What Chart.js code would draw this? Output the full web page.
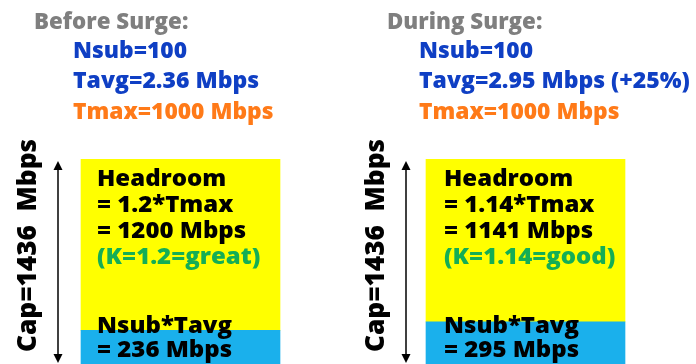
<!DOCTYPE html>
<html>
<head>
<meta charset="utf-8">
<script src="https://cdn.jsdelivr.net/npm/chart.js@4"></script>
<style>
  html, body { margin: 0; padding: 0; background: #ffffff; overflow: hidden; }
  #wrap { width: 696px; height: 364px; overflow: hidden; }
  canvas { display: block; }
</style>
</head>
<body>
<div id="wrap"><canvas id="chart" width="698" height="364"></canvas></div>
<script>
// Link capacity split into average load and burst headroom, before and during a traffic surge
const panels = ['Before Surge', 'During Surge'];
const loadMbps = [236, 295];          // Nsub * Tavg
const headroomMbps = [1200, 1141];    // K * Tmax
const capMbps = [1436, 1436];
const nsub = [100, 100];
const tavgMbps = [2.36, 2.95];
const tavgNote = ['', ' (+25%)'];
const tmaxMbps = [1000, 1000];
const kFactor = [1.2, 1.14];
const kRating = ['great', 'good'];

const FONT = '"Open Sans", "DejaVu Sans", sans-serif';
const COLORS = {
  load: '#1AB0EC',
  headroom: '#FFFF00',
  title: '#7F7F7F',
  param: '#0F3FC4',
  tmax: '#FF7A18',
  kText: '#14AE55',
  ink: '#000000'
};

// Per-panel offsets of the annotations, measured from the bar's left edge
const annot = [
  { titleDx: -47, paramDx: -8, boxDx: 16, arrowDx: -23, capDx: -45.5 },
  { titleDx: -39, paramDx: -7, boxDx: 18, arrowDx: -20, capDx: -42.5 }
];

// bold text, optionally stretched horizontally by sx
function text(ctx, str, x, y, color, size, sx) {
  ctx.save();
  ctx.translate(x, y);
  ctx.scale(sx || 1, 1);
  ctx.fillStyle = color;
  ctx.font = '800 ' + size + 'px ' + FONT;
  ctx.textAlign = 'left';
  ctx.textBaseline = 'alphabetic';
  ctx.fillText(str, 0, 0);
  ctx.restore();
}

const annotations = {
  id: 'surgeAnnotations',
  afterDatasetsDraw(chart) {
    const ctx = chart.ctx;
    const y = chart.scales.y;
    const metaLoad = chart.getDatasetMeta(0);
    ctx.save();
    panels.forEach((name, i) => {
      const bar = metaLoad.data[i];
      const left = bar.x - bar.width / 2;
      const a = annot[i];
      const capTop = y.getPixelForValue(capMbps[i]);
      const zero = y.getPixelForValue(0);

      // panel heading and parameters
      text(ctx, name + ':', left + a.titleDx, 29, COLORS.title, 23, 0.97);
      text(ctx, 'Nsub=' + nsub[i], left + a.paramDx, 58, COLORS.param, 23, 0.99);
      text(ctx, 'Tavg=' + tavgMbps[i].toFixed(2) + ' Mbps' + tavgNote[i], left + a.paramDx, 88, COLORS.param, 23, 1.0);
      text(ctx, 'Tmax=' + tmaxMbps[i] + ' Mbps', left + a.paramDx, 119, COLORS.tmax, 23, 0.99);

      // headroom block text
      const bx = left + a.boxDx;
      const sx = 1.09;
      text(ctx, 'Headroom', bx, capTop + 27, COLORS.ink, 22, sx);
      text(ctx, '= ' + kFactor[i] + '*Tmax', bx, capTop + 53, COLORS.ink, 22, sx);
      text(ctx, '= ' + headroomMbps[i] + ' Mbps', bx, capTop + 79, COLORS.ink, 22, sx);
      text(ctx, '(K=' + kFactor[i] + '=' + kRating[i] + ')', bx, capTop + 105, COLORS.kText, 22, sx);

      // load block text
      text(ctx, 'Nsub*Tavg', bx, zero - 31, COLORS.ink, 22, sx);
      text(ctx, '= ' + loadMbps[i] + ' Mbps', bx, zero - 7, COLORS.ink, 22, sx);

      // double-headed capacity arrow
      const ax = left + a.arrowDx;
      const top = capTop + 2;
      const bottom = zero - 1;
      ctx.strokeStyle = COLORS.ink;
      ctx.fillStyle = COLORS.ink;
      ctx.lineWidth = 1.5;
      ctx.beginPath();
      ctx.moveTo(ax, top + 6);
      ctx.lineTo(ax, bottom - 6);
      ctx.stroke();
      ctx.beginPath();
      ctx.moveTo(ax, top);
      ctx.lineTo(ax - 4.5, top + 9);
      ctx.lineTo(ax + 4.5, top + 9);
      ctx.closePath();
      ctx.fill();
      ctx.beginPath();
      ctx.moveTo(ax, bottom);
      ctx.lineTo(ax - 4.5, bottom - 9);
      ctx.lineTo(ax + 4.5, bottom - 9);
      ctx.closePath();
      ctx.fill();

      // rotated capacity label
      ctx.save();
      ctx.translate(left + a.capDx, 352);
      ctx.rotate(-Math.PI / 2);
      text(ctx, 'Cap=' + capMbps[i] + '  Mbps', 0, 0, COLORS.ink, 27, 0.97);
      ctx.restore();
    });
    ctx.restore();
  }
};

new Chart(document.getElementById('chart'), {
  type: 'bar',
  data: {
    labels: panels,
    datasets: [
      { label: 'Nsub*Tavg', data: loadMbps, backgroundColor: COLORS.load, borderWidth: 0, barThickness: 199 },
      { label: 'Headroom', data: headroomMbps, backgroundColor: COLORS.headroom, borderWidth: 0, barThickness: 199 }
    ]
  },
  options: {
    responsive: false,
    animation: false,
    layout: { padding: { top: 159, left: 8, right: 0, bottom: 0 } },
    plugins: { legend: { display: false }, tooltip: { enabled: false } },
    scales: {
      x: { stacked: true, display: false, offset: true },
      y: { stacked: true, display: false, min: 0, max: 1436 }
    }
  },
  plugins: [annotations]
});
</script>
</body>
</html>
